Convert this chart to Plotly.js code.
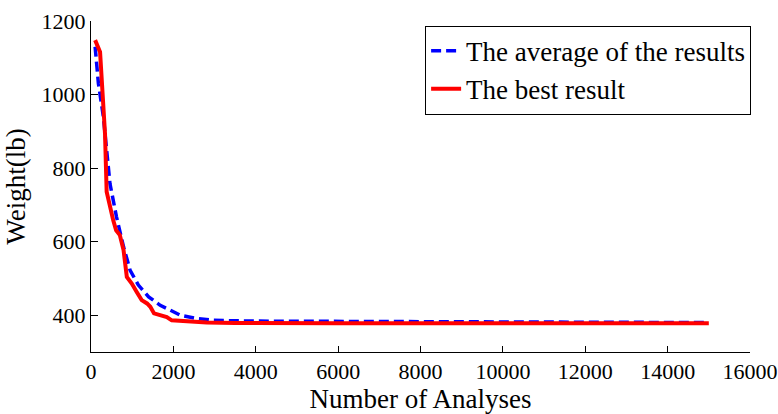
<!DOCTYPE html>
<html>
<head>
<meta charset="utf-8">
<script src="https://cdn.plot.ly/plotly-3.0.1.min.js"></script>
<style>html,body{margin:0;padding:0;background:#fff;}#chart{width:778px;height:414px;}</style>
</head>
<body>
<div id="chart"></div>
<script>
const avgX = [100, 180, 300, 460, 620, 790, 950, 1150, 1400, 1680, 1920, 2170, 2570, 2980, 4000, 6000, 8000, 10000, 12000, 15000];
const avgY = [1130, 1030, 940, 758, 667, 586, 522, 482, 450, 427, 414, 400, 391, 386, 384, 383, 383, 382, 381, 380];
const bestX = [100, 220, 340, 380, 540, 610, 700, 790, 870, 990, 1110, 1230, 1360, 1440, 1530, 1680, 1840, 1960, 2250, 2810, 3500, 4180, 6000, 8000, 10000, 12000, 15000];
const bestY = [1148, 1116, 894, 736, 658, 631, 618, 577, 504, 486, 463, 441, 432, 423, 405, 400, 395, 386, 384, 380, 379, 378, 378, 378, 378, 378, 378];
const seriesNames = ["The average of the results", "The best result"];
const xTicks = [0, 2000, 4000, 6000, 8000, 10000, 12000, 14000, 16000];
const yTicks = [400, 600, 800, 1000, 1200];

const fam = "Liberation Serif";
const data = [
  {x: avgX, y: avgY, name: seriesNames[0], mode: "lines", type: "scatter",
   line: {color: "#0000ff", width: 3.5, dash: "10px,5px"}},
  {x: bestX, y: bestY, name: seriesNames[1], mode: "lines", type: "scatter",
   line: {color: "#ff0000", width: 4}}
];
const layout = {
  width: 778, height: 414,
  margin: {l: 91, r: 28, t: 21, b: 62},
  paper_bgcolor: "#ffffff", plot_bgcolor: "#ffffff",
  font: {family: fam, size: 22, color: "black"},
  showlegend: true,
  legend: {x: 0.507, y: 0.986, xanchor: "left", yanchor: "top",
    bordercolor: "black", borderwidth: 1, bgcolor: "#ffffff",
    font: {family: fam, size: 27, color: "black"}, tracegroupgap: 0},
  xaxis: {range: [0, 16000], tickvals: xTicks, ticktext: xTicks.map(String),
    showgrid: false, zeroline: false, showline: true, linecolor: "black", linewidth: 1,
    ticks: "inside", ticklen: 6, tickcolor: "black",
    tickfont: {family: fam, size: 22, color: "black"},
    title: {text: "Number of Analyses", font: {family: fam, size: 27, color: "black"}, standoff: 4}},
  yaxis: {range: [300, 1200], tickvals: yTicks, ticktext: yTicks.map(String),
    showgrid: false, zeroline: false, showline: true, linecolor: "black", linewidth: 1,
    ticks: "inside", ticklen: 7, tickcolor: "black",
    tickfont: {family: fam, size: 22, color: "black"},
    title: {text: "Weight(lb)", font: {family: fam, size: 27, color: "black"}, standoff: 8}}
};
Plotly.newPlot("chart", data, layout, {displayModeBar: false, staticPlot: true});
</script>
</body>
</html>
